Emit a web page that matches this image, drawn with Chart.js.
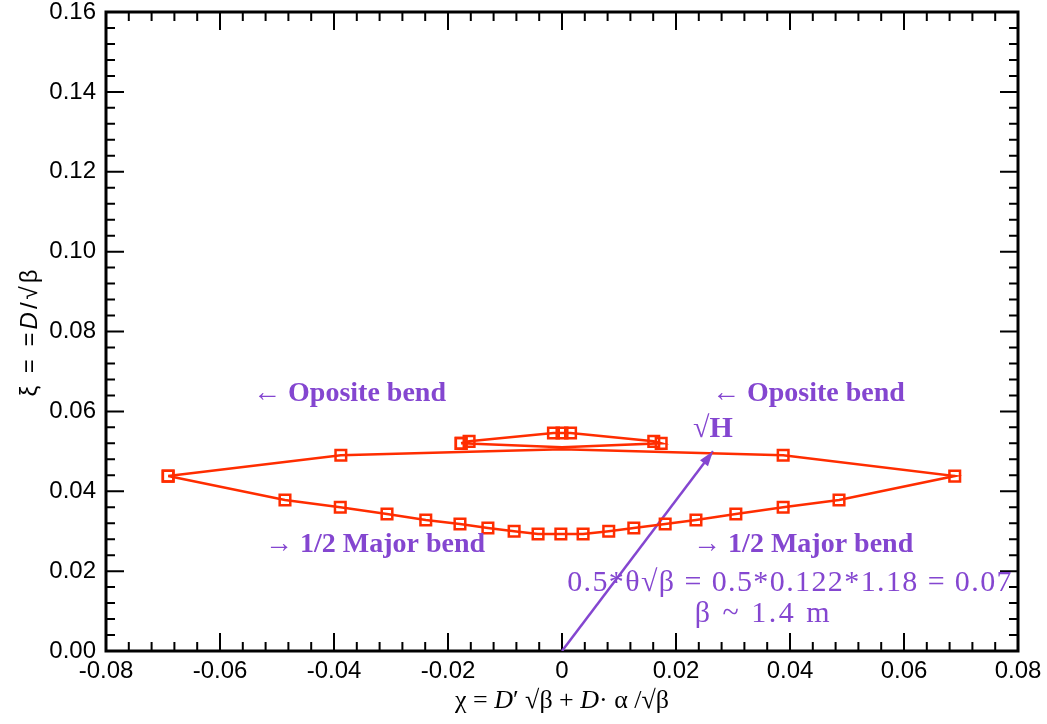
<!DOCTYPE html>
<html>
<head>
<meta charset="utf-8">
<script src="https://cdn.jsdelivr.net/npm/chart.js@4/dist/chart.umd.min.js"></script>
<style>
  html, body { margin: 0; padding: 0; background: #fff; }
</style>
</head>
<body>
<canvas id="phase" width="1047" height="724"></canvas>
<script>
// closed dispersion ring: lower half left->right, then back along the top
const ringX = [-0.0691, -0.0486, -0.0389, -0.0307, -0.0239, -0.0179, -0.0130, -0.0084, -0.0042, -0.0002,
    0.0037, 0.0082, 0.0126, 0.0181, 0.0235, 0.0305, 0.0388, 0.0486, 0.0689, 0.0388, 0.0000, -0.0388, -0.0691];
const ringY = [0.0438, 0.0378, 0.0360, 0.0343, 0.0328, 0.0318, 0.0308, 0.0300, 0.0293, 0.0293,
    0.0293, 0.0300, 0.0308, 0.0318, 0.0328, 0.0343, 0.0360, 0.0378, 0.0438, 0.0490, 0.0505, 0.0490, 0.0438];
const ringNoMark = [20];

// small cap over the middle (opposite bends)
const capX = [-0.0177, -0.0163, -0.0015, 0.0000, 0.0015, 0.0161, 0.0174, 0.0000, -0.0177];
const capY = [0.0520, 0.0525, 0.0546, 0.0546, 0.0546, 0.0525, 0.0520, 0.0510, 0.0520];
const capNoMark = [7];

// sqrt(H) vector
const arrowX = [0, 0.0265];
const arrowY = [0, 0.0500];

const xTickLabels = ['-0.08', '-0.06', '-0.04', '-0.02', '0', '0.02', '0.04', '0.06', '0.08'];
const yTickLabels = ['0.00', '0.02', '0.04', '0.06', '0.08', '0.10', '0.12', '0.14', '0.16'];

const red = 'rgb(255,45,0)';
const purple = '#8446d0';

const toPoints = (xs, ys) => xs.map((x, i) => ({x: x, y: ys[i]}));

const notes = [
    {text: '\u2190 Oposite bend', x: -0.0542, y: 0.0645, font: 'bold 28px "Liberation Serif"', ls: 0},
    {text: '\u2190 Oposite bend', x: 0.0263, y: 0.0645, font: 'bold 28px "Liberation Serif"', ls: 0},
    {text: '\u221AH', x: 0.0230, y: 0.0555, font: 'bold 30px "Liberation Serif"', ls: 0},
    {text: '\u2192 1/2 Major bend', x: -0.0521, y: 0.0265, font: 'bold 28px "Liberation Serif"', ls: 0},
    {text: '\u2192 1/2 Major bend', x: 0.0230, y: 0.0265, font: 'bold 28px "Liberation Serif"', ls: 0},
    {text: '0.5*\u03B8\u221A\u03B2 = 0.5*0.122*1.18 = 0.07', x: 0.0009, y: 0.0170, font: '30px "Liberation Serif"', ls: 1.4},
    {text: '\u03B2 ~ 1.4 m', x: 0.0233, y: 0.0092, font: '30px "Liberation Serif"', ls: 2.5},
];

const xTitle = [['\u03C7 = ', false], ['D', true], ['\u2032 \u221A\u03B2 + ', false], ['D', true], ['\u00B7 \u03B1 /\u221A\u03B2', false]];
const yTitle = [['\u03BE = =', false], ['D', true], ['/\u221A\u03B2', false]];

function richText(ctx, parts, size, family, ls) {
    ctx.letterSpacing = ls + 'px';
    const fonts = parts.map(p => (p[1] ? 'italic ' : '') + size + 'px ' + family);
    let total = 0;
    parts.forEach((p, i) => { ctx.font = fonts[i]; total += ctx.measureText(p[0]).width; });
    let cx = -total / 2;
    parts.forEach((p, i) => {
        ctx.font = fonts[i];
        ctx.fillText(p[0], cx, 0);
        cx += ctx.measureText(p[0]).width;
    });
}

const frame = {
    id: 'frame',
    beforeDatasetsDraw(chart) {
        const {ctx, chartArea: a, scales: {x, y}} = chart;
        ctx.save();
        ctx.strokeStyle = '#000';
        ctx.lineWidth = 2;
        ctx.beginPath();
        for (let i = 0; i <= 40; i++) {
            const px = x.getPixelForValue(-0.08 + i * 0.004);
            const len = i % 5 === 0 ? 18 : 9;
            ctx.moveTo(px, a.bottom); ctx.lineTo(px, a.bottom - len);
            ctx.moveTo(px, a.top); ctx.lineTo(px, a.top + len);
        }
        for (let i = 0; i <= 40; i++) {
            const py = y.getPixelForValue(i * 0.004);
            const len = i % 5 === 0 ? 18 : 9;
            ctx.moveTo(a.left, py); ctx.lineTo(a.left + len, py);
            ctx.moveTo(a.right, py); ctx.lineTo(a.right - len, py);
        }
        ctx.stroke();
        ctx.lineWidth = 3;
        ctx.strokeRect(a.left, a.top, a.width, a.height);

        // axis titles with italic D
        ctx.fillStyle = '#000';
        ctx.textAlign = 'left';
        ctx.textBaseline = 'middle';
        ctx.save();
        ctx.translate((a.left + a.right) / 2, 701);
        richText(ctx, xTitle, 26, '"Liberation Serif"', 0);
        ctx.restore();
        ctx.save();
        ctx.translate(30, (a.top + a.bottom) / 2);
        ctx.rotate(-Math.PI / 2);
        richText(ctx, yTitle, 24, '"Liberation Sans"', 3);
        ctx.restore();
        ctx.restore();
    },
    afterDatasetsDraw(chart) {
        const {ctx, scales: {x, y}} = chart;
        ctx.save();
        // arrow head on the sqrt(H) vector
        const x0 = x.getPixelForValue(arrowX[0]), y0 = y.getPixelForValue(arrowY[0]);
        const x1 = x.getPixelForValue(arrowX[1]), y1 = y.getPixelForValue(arrowY[1]);
        const ang = Math.atan2(y1 - y0, x1 - x0);
        ctx.fillStyle = purple;
        ctx.beginPath();
        ctx.moveTo(x1, y1);
        ctx.lineTo(x1 - 15 * Math.cos(ang) + 5 * Math.sin(ang), y1 - 15 * Math.sin(ang) - 5 * Math.cos(ang));
        ctx.lineTo(x1 - 15 * Math.cos(ang) - 5 * Math.sin(ang), y1 - 15 * Math.sin(ang) + 5 * Math.cos(ang));
        ctx.closePath();
        ctx.fill();

        ctx.textAlign = 'left';
        ctx.textBaseline = 'middle';
        notes.forEach(n => {
            ctx.font = n.font;
            ctx.letterSpacing = n.ls + 'px';
            ctx.fillText(n.text, x.getPixelForValue(n.x), y.getPixelForValue(n.y));
        });
        ctx.restore();
    }
};

new Chart(document.getElementById('phase'), {
    type: 'scatter',
    plugins: [frame],
    data: {
        datasets: [
            {
                data: toPoints(ringX, ringY),
                showLine: true,
                borderColor: red,
                borderWidth: 2.5,
                pointStyle: 'rect',
                pointRadius: c => ringNoMark.includes(c.dataIndex) ? 0 : 7.5,
                pointBorderColor: red,
                pointBorderWidth: 2.5,
                pointBackgroundColor: 'rgba(0,0,0,0)',
            },
            {
                data: toPoints(capX, capY),
                showLine: true,
                borderColor: red,
                borderWidth: 2.5,
                pointStyle: 'rect',
                pointRadius: c => capNoMark.includes(c.dataIndex) ? 0 : 7.5,
                pointBorderColor: red,
                pointBorderWidth: 2.5,
                pointBackgroundColor: 'rgba(0,0,0,0)',
            },
            {
                data: toPoints(arrowX, arrowY),
                showLine: true,
                borderColor: purple,
                borderWidth: 2.5,
                pointRadius: 0,
            }
        ]
    },
    options: {
        responsive: false,
        animation: false,
        layout: {padding: {left: 0, right: 29, top: 0, bottom: 0}},
        plugins: {
            legend: {display: false},
            tooltip: {enabled: false}
        },
        scales: {
            x: {
                type: 'linear',
                min: -0.08,
                max: 0.08,
                afterFit: s => { s.height = 73; s.paddingLeft = 0; s.paddingRight = 0; },
                grid: {display: false, drawTicks: false},
                border: {display: false},
                ticks: {
                    stepSize: 0.02,
                    padding: 6,
                    color: '#000',
                    font: {size: 24, family: '"Liberation Sans"'},
                    callback: (v, i) => xTickLabels[i]
                }
            },
            y: {
                min: 0,
                max: 0.16,
                afterFit: s => { s.width = 106; s.paddingTop = 12; s.paddingBottom = 0; },
                grid: {display: false, drawTicks: false},
                border: {display: false},
                ticks: {
                    stepSize: 0.02,
                    padding: 10,
                    color: '#000',
                    font: {size: 24, family: '"Liberation Sans"'},
                    callback: (v, i) => yTickLabels[i]
                }
            }
        }
    }
});
</script>
</body>
</html>
